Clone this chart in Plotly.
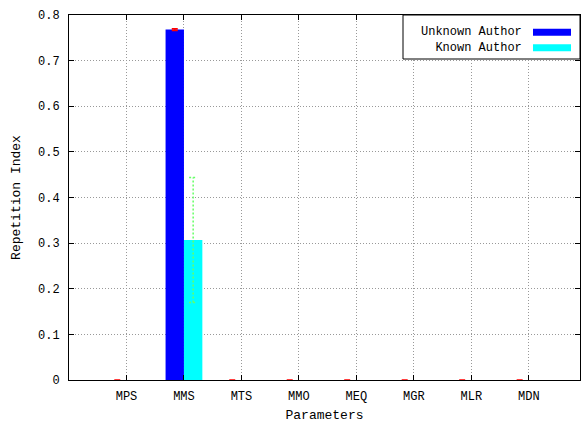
import plotly.graph_objects as go

categories = ["MPS", "MMS", "MTS", "MMO", "MEQ", "MGR", "MLR", "MDN"]
unknown_author = [0, 0.768, 0, 0, 0, 0, 0, 0]
unknown_err = [0, 0.002, 0, 0, 0, 0, 0, 0]
known_author = [0, 0.307, 0, 0, 0, 0, 0, 0]
known_err = [0, 0.137, 0, 0, 0, 0, 0, 0]
y_ticks = [0, 0.1, 0.2, 0.3, 0.4, 0.5, 0.6, 0.7, 0.8]
y_ticklabels = ["0", "0.1", "0.2", "0.3", "0.4", "0.5", "0.6", "0.7", "0.8"]
series_names = ["Unknown Author", "Known Author"]
series_colors = ["#0000ff", "#00ffff"]

FONT = "Liberation Mono, Courier New, monospace"
pos = list(range(1, len(categories) + 1))
off = 0.16
bw = 0.32
x_unk = [p - off for p in pos]
x_kn = [p + off for p in pos]

fig = go.Figure()
fig.add_trace(go.Bar(
    x=x_unk, y=unknown_author, width=bw, name=series_names[0],
    marker=dict(color=series_colors[0], line=dict(width=0)),
    error_y=dict(type="data", array=unknown_err, color="#ff0000", thickness=1.5, width=3),
))
fig.add_trace(go.Bar(
    x=x_kn, y=known_author, width=bw, name=series_names[1],
    marker=dict(color=series_colors[1], line=dict(width=0)),
))
# dotted green error bars for Known Author
ex, ey = [], []
cap = 0.07
for x, v, e in zip(x_kn, known_author, known_err):
    if e > 0:
        ex += [x, x, None, x - cap, x + cap, None, x - cap, x + cap, None]
        ey += [v - e, v + e, None, v + e, v + e, None, v - e, v - e, None]
fig.add_trace(go.Scatter(x=ex, y=ey, mode="lines", showlegend=False, hoverinfo="skip",
                         line=dict(color="#66ff66", width=1.5, dash="2px,2px")))

fig.update_layout(
    width=582, height=423,
    margin=dict(l=69, r=2, t=15, b=43),
    paper_bgcolor="white", plot_bgcolor="white",
    barmode="overlay", showlegend=False,
    font=dict(family=FONT, size=12, color="black"),
)
fig.update_xaxes(
    range=[0, 8.89], tickvals=pos, ticktext=categories,
    showline=True, linecolor="black", linewidth=1, mirror="ticks",
    ticks="inside", ticklen=5, tickcolor="black",
    showgrid=True, gridcolor="#999999", griddash="1px,2px", gridwidth=1,
    zeroline=False, ticklabelstandoff=5,
    title=dict(text="Parameters", font=dict(family=FONT, size=13), standoff=6),
    tickfont=dict(family=FONT, size=12),
)
fig.update_yaxes(
    range=[0, 0.8], tickvals=y_ticks, ticktext=y_ticklabels,
    showline=True, linecolor="black", linewidth=1, mirror="ticks",
    ticks="inside", ticklen=5, tickcolor="black",
    showgrid=True, gridcolor="#999999", griddash="1px,2px", gridwidth=1,
    zeroline=False, ticklabelstandoff=6,
    title=dict(text="Repetition Index", font=dict(family=FONT, size=13), standoff=14),
    tickfont=dict(family=FONT, size=12),
)

# legend box (gnuplot style: text right-aligned, swatch on the right)
fig.add_shape(type="rect", xref="paper", yref="paper", x0=(403 - 69) / 511, x1=1.0,
              y0=1 - (59 - 15) / 365, y1=1.0, line=dict(color="black", width=1),
              fillcolor="white", layer="above")
fig.add_annotation(xref="paper", yref="paper", x=(524 - 69) / 511, y=1 - (40 - 15) / 365,
                   text="<br>".join(series_names), align="right",
                   showarrow=False, xanchor="right", yanchor="middle",
                   font=dict(family=FONT, size=12, color="black"))
for i, color in enumerate(series_colors):
    ypx = 32.2 + i * 15.6
    yp = 1 - (ypx - 15) / 365
    fig.add_shape(type="rect", xref="paper", yref="paper",
                  x0=(533 - 69) / 511, x1=(571 - 69) / 511,
                  y0=yp - 3.5 / 365, y1=yp + 3.5 / 365,
                  fillcolor=color, line=dict(width=0), layer="above")

fig.write_html("out.html", config={"displayModeBar": False},
               post_script="document.body.style.margin='0';document.body.style.padding='0';")
